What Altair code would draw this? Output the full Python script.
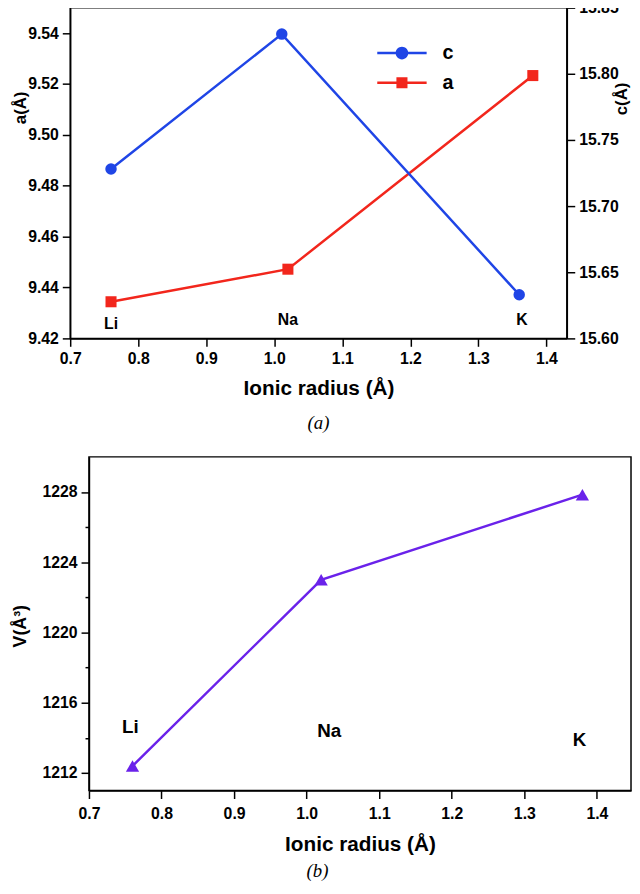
import altair as alt
import pandas as pd

# ---------------- data ----------------
ions = ["Li", "Na", "K"]
# panel (a)
a_x = [0.76, 1.02, 1.38]
a_vals = [9.4344, 9.4472, 9.5233]
c_x = [0.76, 1.011, 1.360]
c_vals = [15.728, 15.830, 15.633]
lab_a_x = [0.76, 1.02, 1.364]
lab_a_y = [9.4258, 9.4272, 9.4272]
# panel (b)
v_x = [0.76, 1.02, 1.38]
v_vals = [1212.4, 1223.0, 1227.85]
lab_b_x = [0.757, 1.031, 1.376]
lab_b_y = [1214.6, 1214.4, 1213.85]
series = ["c", "a"]

x_ticks = [round(0.7 + 0.05 * i, 2) for i in range(15)]
ya_ticks = [round(9.42 + 0.01 * i, 2) for i in range(13)]
yc_ticks = [round(15.60 + 0.025 * i, 3) for i in range(11)]
yv_ticks = [1212 + 2 * i for i in range(9)]

BLUE = "#1f45e6"
RED = "#f2261c"
PURPLE = "#6a22ea"
FONT = "Liberation Sans"

df_a = pd.DataFrame({"x": a_x, "y": a_vals})
df_c = pd.DataFrame({"x": c_x, "y": c_vals})
df_la = pd.DataFrame({"x": lab_a_x, "y": lab_a_y, "t": ions})
df_v = pd.DataFrame({"x": v_x, "y": v_vals})
df_lb = pd.DataFrame({"x": lab_b_x, "y": lab_b_y, "t": ions})
df_leg = pd.DataFrame({"s": series})


def tick_size(test):
    return {"condition": {"test": test, "value": 8}, "value": 4}


major_x = "abs(datum.value*10 - round(datum.value*10)) < 0.001"
major_ya = "abs(datum.value*50 - round(datum.value*50)) < 0.001"
major_yc = "abs(datum.value*20 - round(datum.value*20)) < 0.001"
major_yv = "datum.value % 4 == 0"

x_scale_a = alt.Scale(domain=[0.7, 1.43], nice=False, zero=False)
x_axis_a = alt.Axis(values=x_ticks, tickSize=tick_size(major_x), labelFlush=False,
                    labelExpr=f"({major_x}) ? format(datum.value, '.1f') : ''",
                    title="Ionic radius (Å)", titlePadding=12, grid=False)
ya_scale = alt.Scale(domain=[9.42, 9.55], nice=False, zero=False)
ya_axis = alt.Axis(orient="left", values=ya_ticks, tickSize=tick_size(major_ya),
                   labelExpr=f"({major_ya}) ? format(datum.value, '.2f') : ''",
                   title="a(Å)", titleX=-50, titleY=101, titleAngle=270,
                   titleAlign="center", titleBaseline="middle", titleFontSize=17,
                   grid=False)
yc_scale = alt.Scale(domain=[15.60, 15.85], nice=False, zero=False)
yc_axis = alt.Axis(orient="right", values=yc_ticks, tickSize=tick_size(major_yc),
                   labelFlush=False,
                   labelExpr=f"({major_yc}) ? format(datum.value, '.2f') : ''",
                   title="c(Å)", titleX=55, titleY=92, titleAngle=270,
                   titleAlign="center", titleBaseline="middle", titleFontSize=17,
                   grid=False)

xa = alt.X("x:Q", scale=x_scale_a, axis=x_axis_a)

a_line = alt.Chart(df_a).mark_line(color=RED, strokeWidth=2.5).encode(
    x=xa, y=alt.Y("y:Q", scale=ya_scale, axis=ya_axis))
a_pts = alt.Chart(df_a).mark_point(shape="square", filled=True, opacity=1,
                                   color=RED, size=125).encode(x="x:Q", y="y:Q")
a_txt = alt.Chart(df_la).mark_text(font=FONT, fontWeight="bold", fontSize=16,
                                   color="black").encode(x="x:Q", y="y:Q", text="t:N")
a_layer = alt.layer(a_line, a_pts, a_txt)

c_line = alt.Chart(df_c).mark_line(color=BLUE, strokeWidth=2.5).encode(
    x="x:Q", y=alt.Y("y:Q", scale=yc_scale, axis=yc_axis))
c_pts = alt.Chart(df_c).mark_point(shape="circle", filled=True, opacity=1,
                                   color=BLUE, size=135).encode(x="x:Q", y="y:Q")
c_layer = alt.layer(c_line, c_pts)

seg = "M-3.125,-0.16H-0.6V0.16H-3.125Z M0.6,-0.16H3.125V0.16H0.6Z "
path_c = seg + "M0.8,0A0.8,0.8,0,1,1,-0.8,0A0.8,0.8,0,1,1,0.8,0Z"
path_a = seg + "M-0.7,-0.7H0.7V0.7H-0.7Z"

leg = alt.Legend(title=None, orient="none", legendX=326, legendY=36,
                 symbolSize=256, symbolOpacity=1, labelOffset=31,
                 labelFont=FONT, labelFontWeight="bold", labelFontSize=20,
                 rowPadding=10, symbolStrokeWidth=0)
legend_layer = alt.Chart(df_leg).mark_point(filled=True, opacity=0, size=256).encode(
    x=alt.value(250), y=alt.value(150),
    color=alt.Color("s:N", scale=alt.Scale(domain=series, range=[BLUE, RED]), legend=leg),
    shape=alt.Shape("s:N", scale=alt.Scale(domain=series, range=[path_c, path_a]), legend=leg),
)

top = alt.layer(a_layer, c_layer, legend_layer).resolve_scale(y="independent").properties(
    width=503, height=335,
    title=alt.TitleParams("(a)", orient="bottom", font="Liberation Serif",
                          fontStyle="italic", fontWeight="normal", fontSize=19,
                          offset=16, anchor="middle", color="black"))

# ---------------- panel (b) ----------------
x_scale_b = alt.Scale(domain=[0.7, 1.447], nice=False, zero=False)
x_axis_b = alt.Axis(values=x_ticks, tickSize=tick_size(major_x), labelFlush=False,
                    labelExpr=f"({major_x}) ? format(datum.value, '.1f') : ''",
                    labelPadding=7,
                    title="Ionic radius (Å)", titlePadding=13, grid=False)
yv_scale = alt.Scale(domain=[1211, 1230], nice=False, zero=False)
yv_axis = alt.Axis(values=yv_ticks, tickSize=tick_size(major_yv),
                   labelExpr=f"({major_yv}) ? format(datum.value, 'd') : ''",
                   title="V(Å³)", titleX=-69, titleY=171, titleAngle=270,
                   titleAlign="center", titleBaseline="middle", titleFontSize=18,
                   grid=False)

v_line = alt.Chart(df_v).mark_line(color=PURPLE, strokeWidth=2.5).encode(
    x=alt.X("x:Q", scale=x_scale_b, axis=x_axis_b),
    y=alt.Y("y:Q", scale=yv_scale, axis=yv_axis))
v_pts = alt.Chart(df_v).mark_point(shape="triangle-up", filled=True, opacity=1,
                                   color=PURPLE, size=180).encode(x="x:Q", y="y:Q")
v_txt = alt.Chart(df_lb).mark_text(font=FONT, fontWeight="bold", fontSize=19,
                                   color="black").encode(x="x:Q", y="y:Q", text="t:N")
bottom = alt.layer(v_line, v_pts, v_txt).properties(
    width=549, height=338,
    title=alt.TitleParams("(b)", orient="bottom", font="Liberation Serif",
                          fontStyle="italic", fontWeight="normal", fontSize=19,
                          offset=7, anchor="middle", dx=-43, color="black"))

spacer = alt.Chart(pd.DataFrame({"v": [0]})).mark_point(opacity=0).encode(
    x=alt.value(10), y=alt.value(100)
).properties(width=19, height=338, view=alt.ViewBackground(stroke="transparent"))

lower = alt.hconcat(spacer, bottom, spacing=0, bounds="flush")

chart = alt.vconcat(top, lower, spacing=22).properties(
    padding={"left": 3, "top": -15, "right": 0, "bottom": 0}
).configure_view(stroke="black", strokeWidth=1.5).configure_axis(
    labelFont=FONT, labelFontWeight="bold", labelFontSize=16, labelColor="black",
    titleFont=FONT, titleFontWeight="bold", titleFontSize=21, titleColor="black",
    domainColor="black", domainWidth=1.5, tickColor="black", tickWidth=1.5,
    labelPadding=4
)

chart.save("out.html", embed_options={"renderer": "svg", "actions": False})
